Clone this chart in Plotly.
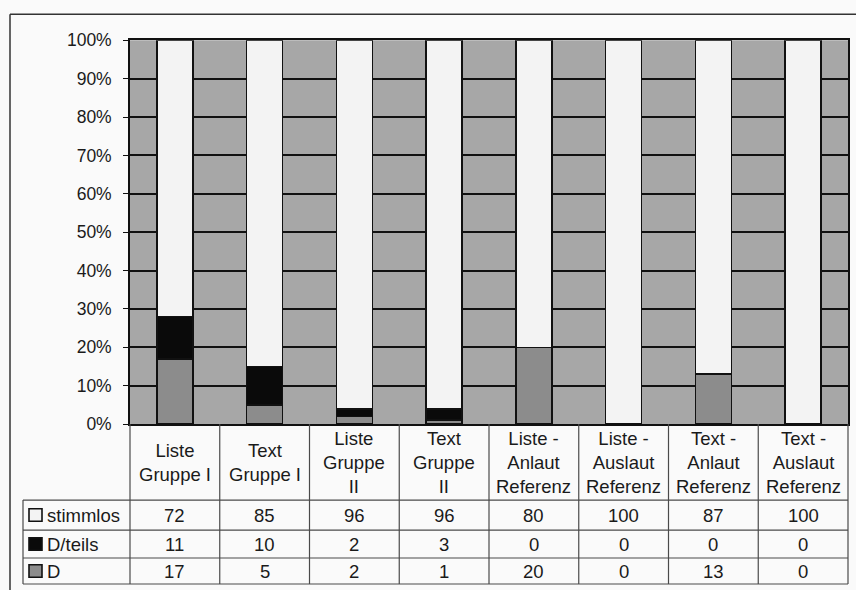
import plotly.graph_objects as go

# Categories (column headers of the data table) and the three stacked series in %
categories = [
    "Liste<br>Gruppe I", "Text<br>Gruppe I", "Liste<br>Gruppe<br>II", "Text<br>Gruppe<br>II",
    "Liste -<br>Anlaut<br>Referenz", "Liste -<br>Auslaut<br>Referenz",
    "Text -<br>Anlaut<br>Referenz", "Text -<br>Auslaut<br>Referenz",
]
stimmlos = [72, 85, 96, 96, 80, 100, 87, 100]
d_teils = [11, 10, 2, 3, 0, 0, 0, 0]
d_voll = [17, 5, 2, 1, 20, 0, 13, 0]

series_names = ["stimmlos", "D/teils", "D"]
series_values = [stimmlos, d_teils, d_voll]
series_colors = ["#f3f3f3", "#0a0a0a", "#8c8c8c"]

tick_vals = list(range(0, 101, 10))
tick_text = [f"{v}%" for v in tick_vals]

# ---- layout geometry ----
S = 590 / 610            # vertical screen scale of the page
OFF = 8                  # page offset of the figure's top edge
W, H = 856, 602          # figure size
PL, PR = 130, 848        # bar plot area, horizontal
PT, PB = 38, 422         # bar plot area, vertical (screen rows)
TAB_LEFT = 23            # left edge of legend column
TAB_ROWS = [422, 498, 528, 556, 582]   # table row edges (screen rows)
n = len(categories)
unit = (PR - PL) / n     # pixels per category


def fy(y_screen):
    """screen row -> figure pixel row"""
    return y_screen / S - OFF


def py(y_screen):
    """screen row -> paper fraction"""
    return 1 - fy(y_screen) / H


ROW_EDGES = [fy(y) - fy(PB) for y in TAB_ROWS]   # pixels below the plot

FONT = "Arial, Liberation Sans, sans-serif"
TXT = "#1a1a1a"
LINE = "#111111"
TLINE = "#4a4a4a"
FS = 18.5

fig = go.Figure()

# stacked bars, bottom to top: D, D/teils, stimmlos
for name, vals, col in reversed(list(zip(series_names, series_values, series_colors))):
    fig.add_trace(go.Bar(
        x=list(range(n)), y=vals, name=name, width=0.4,
        marker=dict(color=col, line=dict(color=LINE, width=1.6)),
        showlegend=False, xaxis="x", yaxis="y",
    ))

x2_lo = -0.5 - PL / unit
x2_hi = n - 0.5 + (W - PR) / unit
x_tab_left = -0.5 - (PL - TAB_LEFT) / unit
tab_span = H - fy(PB)                       # pixels from plot bottom to figure bottom

shapes = [
    # grey plot-area background
    dict(type="rect", xref="x domain", yref="y domain", x0=0, x1=1, y0=0, y1=1,
         fillcolor="#a7a7a7", line=dict(width=0), layer="below"),
    # outer chart frame (left and top edges)
    dict(type="line", xref="paper", yref="paper", x0=10 / W, x1=10 / W, y0=0, y1=py(12),
         line=dict(color="#333", width=1.5)),
    dict(type="line", xref="paper", yref="paper", x0=10 / W, x1=1, y0=py(12), y1=py(12),
         line=dict(color="#333", width=1.5)),
]

# data table grid
for k in range(n + 1):
    shapes.append(dict(type="line", xref="x2", yref="y2", x0=k - 0.5, x1=k - 0.5,
                       y0=ROW_EDGES[0], y1=ROW_EDGES[-1], line=dict(color=TLINE, width=1.2)))
shapes.append(dict(type="line", xref="x2", yref="y2", x0=x_tab_left, x1=x_tab_left,
                   y0=ROW_EDGES[1], y1=ROW_EDGES[-1], line=dict(color=TLINE, width=1.2)))
for yy in ROW_EDGES[1:]:
    shapes.append(dict(type="line", xref="x2", yref="y2", x0=x_tab_left, x1=n - 0.5,
                       y0=yy, y1=yy, line=dict(color=TLINE, width=1.2)))

annotations = []
# column headers
for k, lab in enumerate(categories):
    annotations.append(dict(xref="x2", yref="y2", x=k, y=(ROW_EDGES[0] + ROW_EDGES[1]) / 2,
                            text=lab, showarrow=False, xanchor="center", yanchor="middle",
                            font=dict(family=FONT, size=FS, color=TXT)))

# rows: legend key + values
for r, (name, vals, col) in enumerate(zip(series_names, series_values, series_colors)):
    yc = (ROW_EDGES[r + 1] + ROW_EDGES[r + 2]) / 2
    shapes.append(dict(type="rect", xref="x2", yref="y2",
                       x0=x_tab_left + 6 / unit, x1=x_tab_left + 19 / unit,
                       y0=yc - 6.5, y1=yc + 6.5, fillcolor=col, line=dict(color="#111", width=1.6)))
    annotations.append(dict(xref="x2", yref="y2", x=x_tab_left + 22 / unit, y=yc,
                            text=name, showarrow=False, xanchor="left", yanchor="middle",
                            font=dict(family=FONT, size=FS, color=TXT)))
    for k, v in enumerate(vals):
        annotations.append(dict(xref="x2", yref="y2", x=k, y=yc, text=str(v),
                                showarrow=False, xanchor="center", yanchor="middle",
                                font=dict(family=FONT, size=FS, color=TXT)))

fig.update_layout(
    width=W, height=H,
    margin=dict(l=0, r=0, t=0, b=0),
    paper_bgcolor="#fafafa", plot_bgcolor="rgba(0,0,0,0)",
    barmode="stack", bargap=0.6,
    xaxis=dict(domain=[PL / W, PR / W], range=[-0.5, n - 0.5], showticklabels=False,
               ticks="", showgrid=False, zeroline=False, showline=True, mirror=True,
               linecolor=LINE, linewidth=1.6, anchor="y", fixedrange=True),
    yaxis=dict(domain=[py(PB), py(PT)], range=[0, 100], tickvals=tick_vals,
               ticktext=tick_text, ticks="outside", ticklen=5, tickcolor=LINE, tickwidth=1.4,
               ticklabelstandoff=8,
               showgrid=True, gridcolor=LINE, gridwidth=1.5, zeroline=False, showline=True,
               mirror=True, linecolor=LINE, linewidth=1.6, anchor="x",
               tickfont=dict(family=FONT, size=17.5, color=TXT)),
    xaxis2=dict(domain=[0, 1], range=[x2_lo, x2_hi], visible=False, anchor="y2"),
    yaxis2=dict(domain=[0, py(PB)], range=[tab_span, 0], visible=False, anchor="x2"),
    shapes=shapes, annotations=annotations,
)

fig.write_html("out.html")
